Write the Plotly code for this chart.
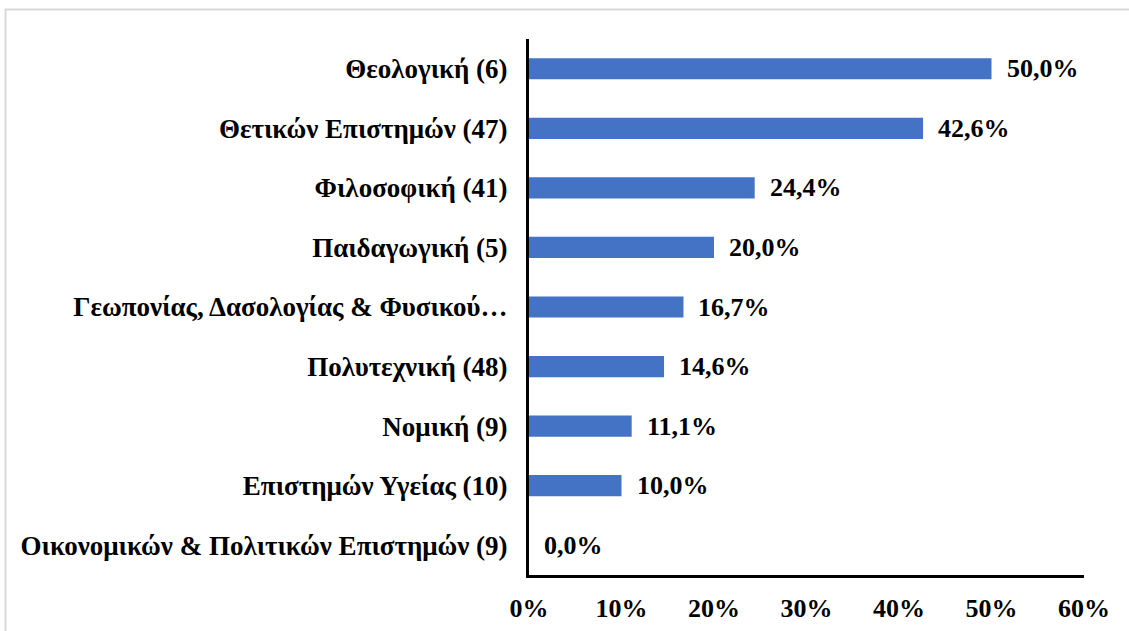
import plotly.graph_objects as go

categories = [
    "Θεολογική (6)",
    "Θετικών Επιστημών (47)",
    "Φιλοσοφική (41)",
    "Παιδαγωγική (5)",
    "Γεωπονίας, Δασολογίας & Φυσικού…",
    "Πολυτεχνική (48)",
    "Νομική (9)",
    "Επιστημών Υγείας (10)",
    "Οικονομικών & Πολιτικών Επιστημών (9)",
]
values = [50.0, 42.6, 24.4, 20.0, 16.7, 14.6, 11.1, 10.0, 0.0]
value_labels = [f"{v:.1f}%".replace(".", ",") for v in values]
tick_vals = [0, 10, 20, 30, 40, 50, 60]
tick_text = [f"{t}%" for t in tick_vals]

FONT = "'Liberation Serif', 'Times New Roman', 'DejaVu Serif', serif"
FS = 26

fig = go.Figure(
    go.Bar(
        x=values,
        y=categories,
        orientation="h",
        marker=dict(color="#4472C4", line=dict(width=0)),
        width=0.355,
        hoverinfo="skip",
    )
)

for v, c, t in zip(values, categories, value_labels):
    fig.add_annotation(
        x=v, y=c, text=f"<b>{t}</b>", showarrow=False,
        xanchor="left", yanchor="middle", xshift=13,
        font=dict(family=FONT, size=FS, color="black"),
    )

W, H = 1129, 631
L, R, T, B = 529, 45, 39, 56
pw, ph = W - L - R, H - T - B

def px2x(p):
    return (p - L) / pw

def py2y(p):
    return (H - B - p) / ph

fig.add_shape(
    type="rect", xref="paper", yref="paper",
    x0=px2x(5.5), x1=px2x(1140), y0=py2y(645), y1=py2y(9.5),
    line=dict(color="#d9d9d9", width=2), fillcolor="rgba(0,0,0,0)", layer="below",
)

fig.update_layout(
    width=W, height=H,
    margin=dict(l=L, r=R, t=T, b=B, autoexpand=False),
    paper_bgcolor="white", plot_bgcolor="white",
    showlegend=False,
    font=dict(family=FONT, size=FS, color="black"),
    xaxis=dict(
        range=[0, 60], tickvals=tick_vals, ticktext=[f"<b>{t}</b>" for t in tick_text],
        showgrid=False, zeroline=False, showline=True, linecolor="black", linewidth=3,
        ticks="", ticklabelstandoff=8, automargin=False,
        tickfont=dict(family=FONT, size=FS, color="black"),
    ),
    yaxis=dict(
        categoryorder="array", categoryarray=categories[::-1],
        tickvals=categories, ticktext=[f"<b>{c}</b>" for c in categories],
        showgrid=False, zeroline=False, showline=True, linecolor="black", linewidth=3,
        ticks="", ticklabelstandoff=13, automargin=False,
        tickfont=dict(family=FONT, size=27, color="black"),
    ),
)

fig.write_html(
    "out.html",
    config={"displayModeBar": False},
    post_script="document.body.style.margin='0';document.body.style.padding='0';document.body.style.overflow='hidden';",
)
